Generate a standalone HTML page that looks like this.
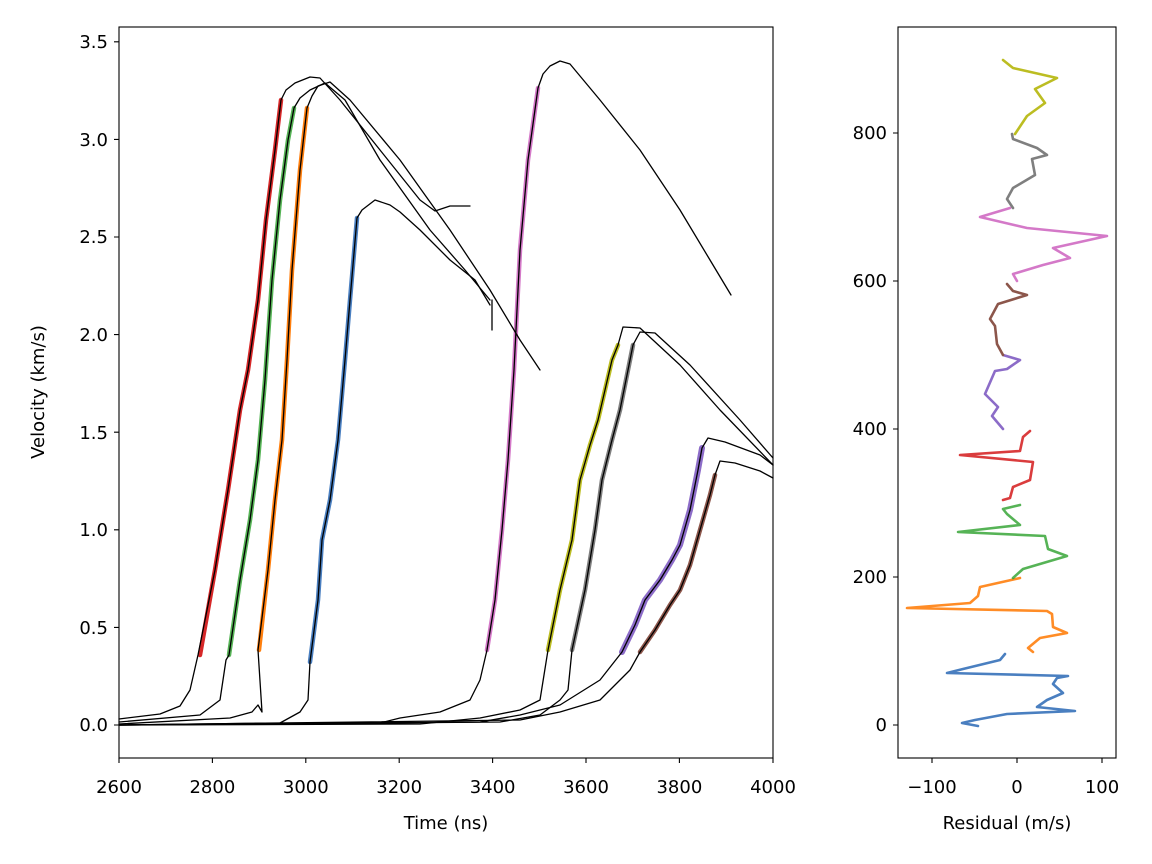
<!DOCTYPE html>
<html><head><meta charset="utf-8"><style>
html,body{margin:0;padding:0;background:#fff}
svg{display:block;font-family:"DejaVu Sans","Liberation Sans",sans-serif}
</style></head><body>
<svg width="1152" height="864" viewBox="0 0 1152 864" xmlns="http://www.w3.org/2000/svg">
<rect width="1152" height="864" fill="#fff"/>
<g fill="none" stroke-linejoin="round" stroke-linecap="round">
<g stroke-width="4.5">
<polyline stroke="#d62728" points="200,655 215,570 228,490 240,410 248,370 258,300 266,220 275,150 281,100"/>
<polyline stroke="#2ca02c" stroke-opacity="0.8" points="229,655 240,580 250,520 258,460 265,380 272,280 280,200 288,140 294,108"/>
<polyline stroke="#ff7f0e" points="259,650 268,570 275,500 282,440 287,360 292,270 300,170 307,108"/>
<polyline stroke="#4a7fc0" points="310,662 318,600 322,540 330,500 338,440 345,360 350,300 357,218"/>
<polyline stroke="#d479c8" points="487,650 495,600 502,530 508,460 514,370 520,250 528,160 538,88"/>
<polyline stroke="#bcbd22" points="548,650 560,590 572,540 580,480 590,445 598,420 605,390 612,360 618,345"/>
<polyline stroke="#7f7f7f" points="572,650 585,590 595,530 602,480 612,440 620,410 628,370 633,345"/>
<polyline stroke="#8c6cc8" stroke-width="6" points="622,652 635,625 645,600 660,580 672,560 680,545 690,510 698,470 702,448"/>
<polyline stroke="#8c564b" points="640,652 655,630 670,605 680,590 690,565 700,530 710,495 715,475"/>
</g>
<g stroke="#000" stroke-width="1.3">
<polyline points="119,719 160,714 180,706 190,690 198,655 215,570 228,490 240,410 248,370 258,300 266,220 275,150 281,100 286,90 295,83 310,77 320,78 340,100 380,150 420,200 435,211 450,206 470,206"/>
<polyline points="119,722 200,715 220,700 226,660 229,655 240,580 250,520 258,460 265,380 272,280 280,200 288,140 294,108 300,98 310,90 325,83 345,100 380,160 430,230 465,270 490,300"/>
<polyline points="492,300 492,330"/>
<polyline points="119,724 230,718 252,712 258,705 262,712 258,650 268,570 275,500 282,440 287,360 292,270 300,170 307,108 312,96 318,86 330,82 350,100 400,160 450,230 490,290 520,340 540,370"/>
<polyline points="119,725 280,723 300,712 308,700 310,662 318,600 322,540 330,500 338,440 345,360 350,300 357,218 362,210 375,200 390,205 400,212 420,230 450,260 475,280 490,305"/>
<polyline points="119,725 380,723 400,718 440,712 470,700 480,680 487,650 495,600 502,530 508,460 514,370 520,250 528,160 538,88 543,74 550,66 560,61 570,64 600,100 640,150 680,210 710,260 731,295"/>
<polyline points="119,725 420,724 480,718 520,710 540,700 548,650 560,590 572,540 580,480 590,445 598,420 605,390 612,360 618,345 623,327 640,328 680,365 720,410 773,465"/>
<polyline points="119,725 500,722 540,715 560,700 568,690 572,650 585,590 595,530 602,480 612,440 620,410 628,370 633,345 640,332 655,333 690,365 740,420 773,458"/>
<polyline points="119,725 480,722 520,715 560,705 600,680 622,652 635,625 645,600 660,580 672,560 680,545 690,510 698,470 702,448 708,438 725,442 760,455 773,465"/>
<polyline points="119,725 520,720 560,712 600,700 630,670 640,652 655,630 670,605 680,590 690,565 700,530 710,495 715,475 720,461 735,463 760,471 773,478"/>
</g>
<g stroke-width="2.6">
<polyline stroke="#4a7fc0" points="978,726 962,723 975,720 1007,714 1075,711 1037,707 1047,700 1063,693 1053,684 1057,678 1068,676 947,673 963,669 1000,660 1005,654"/>
<polyline stroke="#ff7f0e" stroke-opacity="0.9" points="1033,652 1028,648 1040,638 1067,633 1053,627 1052,614 1047,611 907,608 970,603 978,596 980,587 1020,578"/>
<polyline stroke="#2ca02c" stroke-opacity="0.8" points="1013,578 1023,569 1067,556 1048,549 1045,536 958,532 1020,525 1007,514 1003,509 1020,505"/>
<polyline stroke="#d62728" stroke-opacity="0.9" points="1003,500 1010,498 1013,487 1030,480 1033,462 960,455 1020,451 1023,437 1030,431"/>
<polyline stroke="#8c6cc8" points="1003,429 992,416 998,407 985,394 995,371 1007,369 1020,360 1003,355"/>
<polyline stroke="#8c564b" points="1003,355 997,344 995,326 990,319 998,304 1027,295 1013,291 1007,284"/>
<polyline stroke="#d479c8" points="1017,281 1013,274 1043,265 1070,258 1053,248 1107,236 1027,228 980,217 1010,208"/>
<polyline stroke="#7f7f7f" points="1013,208 1007,199 1013,188 1035,175 1032,159 1047,155 1037,148 1013,139 1012,134"/>
<polyline stroke="#bcbd22" points="1015,134 1027,116 1045,103 1035,89 1057,78 1013,68 1003,60"/>
</g>
</g>
<g fill="none" stroke="#000" stroke-width="1.1">
<rect x="119" y="27" width="654" height="731"/>
<rect x="898" y="27" width="218" height="731"/>
<path d="M119,758v5M212.4,758v5M305.8,758v5M399.2,758v5M492.6,758v5M586,758v5M679.4,758v5M773,758v5"/>
<path d="M119,725h-5M119,627.4h-5M119,529.8h-5M119,432.2h-5M119,334.6h-5M119,237h-5M119,139.4h-5M119,41.8h-5"/>
<path d="M932,758v5M1017,758v5M1102,758v5M898,725h-5M898,577h-5M898,429h-5M898,281h-5M898,133h-5"/>
</g>
<g font-size="18" fill="#000">
<g text-anchor="middle">
<text x="119" y="793">2600</text><text x="212.4" y="793">2800</text><text x="305.8" y="793">3000</text><text x="399.2" y="793">3200</text><text x="492.6" y="793">3400</text><text x="586" y="793">3600</text><text x="679.4" y="793">3800</text><text x="773" y="793">4000</text>
<text x="446" y="829">Time (ns)</text>
<text x="932" y="793">−100</text><text x="1017" y="793">0</text><text x="1102" y="793">100</text>
<text x="1007" y="829">Residual (m/s)</text>
</g>
<g text-anchor="end">
<text x="108" y="731">0.0</text><text x="108" y="634">0.5</text><text x="108" y="536">1.0</text><text x="108" y="439">1.5</text><text x="108" y="341">2.0</text><text x="108" y="243">2.5</text><text x="108" y="146">3.0</text><text x="108" y="48">3.5</text>
<text x="887" y="731">0</text><text x="887" y="583">200</text><text x="887" y="435">400</text><text x="887" y="287">600</text><text x="887" y="139">800</text>
</g>
<text transform="translate(44,392) rotate(-90)" text-anchor="middle">Velocity (km/s)</text>
</g>
</svg>
</body></html>
